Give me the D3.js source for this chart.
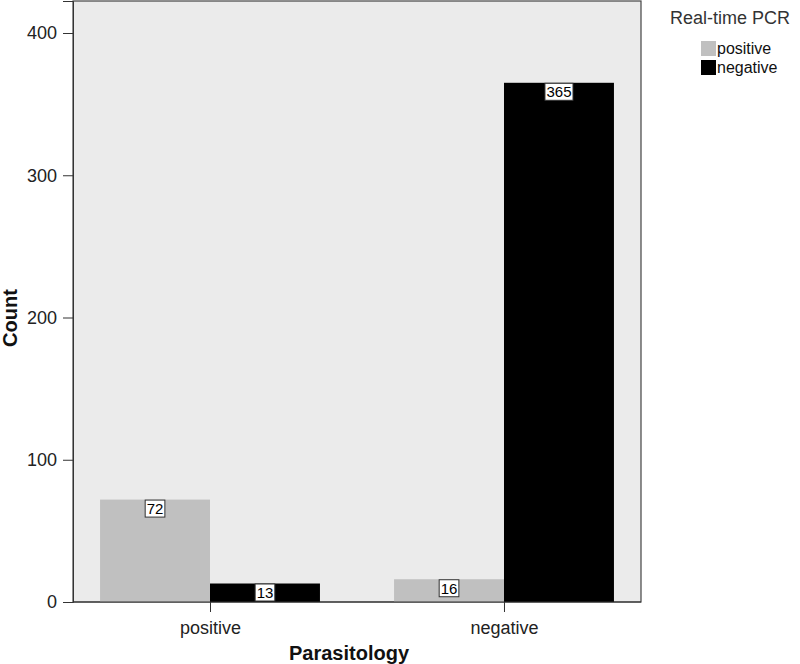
<!DOCTYPE html>
<html>
<head>
<meta charset="utf-8">
<script src="https://cdn.jsdelivr.net/npm/d3@7"></script>
<style>
  body { margin: 0; background: #fff; }
  text { font-family: Arial, "Liberation Sans", sans-serif; }
</style>
</head>
<body>
<svg id="svg" width="800" height="664"></svg>
<script>
// data
const categories = ['positive', 'negative'];          // Parasitology
const series = ['positive', 'negative'];              // Real-time PCR
const pcrPositive = [72, 16];
const pcrNegative = [13, 365];
const yTicks = [0, 100, 200, 300, 400];

const colors = { positive: '#c0c0c0', negative: '#000000' };

const svg = d3.select('#svg');
const plot = { left: 73, right: 641, top: 1, bottom: 602 };

const x = d3.scaleBand()
  .domain(categories)
  .range([plot.left, plot.right])
  .paddingInner(0.252)
  .paddingOuter(0.092);

const xInner = d3.scaleBand()
  .domain(series)
  .range([0, x.bandwidth()]);

const y = d3.scaleLinear()
  .domain([0, 422.5])
  .range([plot.bottom, plot.top]);

// background panel
svg.append('rect')
  .attr('x', plot.left)
  .attr('y', plot.top)
  .attr('width', plot.right - plot.left)
  .attr('height', plot.bottom - plot.top)
  .attr('fill', '#ebebeb')
  .attr('stroke', '#444')
  .attr('stroke-width', 1.2);

const rows = categories.map((c, i) => ({
  cat: c,
  values: [
    { key: 'positive', value: pcrPositive[i] },
    { key: 'negative', value: pcrNegative[i] }
  ]
}));

const groups = svg.selectAll('g.grp')
  .data(rows)
  .join('g')
  .attr('class', 'grp')
  .attr('transform', d => `translate(${x(d.cat)},0)`);

groups.selectAll('rect')
  .data(d => d.values)
  .join('rect')
  .attr('x', d => xInner(d.key))
  .attr('y', d => y(d.value))
  .attr('width', xInner.bandwidth())
  .attr('height', d => y(0) - y(d.value))
  .attr('fill', d => colors[d.key]);

// value labels
const lab = groups.selectAll('g.lab')
  .data(d => d.values)
  .join('g')
  .attr('class', 'lab')
  .attr('transform', d => `translate(${xInner(d.key) + xInner.bandwidth() / 2},${y(d.value) + 9})`);

lab.each(function (d) {
  const g = d3.select(this);
  const t = g.append('text')
    .attr('text-anchor', 'middle')
    .attr('dy', '0.36em')
    .attr('font-size', 15)
    .attr('fill', '#000')
    .text(d.value);
  const w = t.node().getComputedTextLength();
  g.insert('rect', 'text')
    .attr('x', -w / 2 - 1.5)
    .attr('y', -8.5)
    .attr('width', w + 3)
    .attr('height', 17)
    .attr('fill', '#fff')
    .attr('stroke', '#333')
    .attr('stroke-width', 1);
});

// axes
const yAxis = svg.append('g')
  .attr('transform', `translate(${plot.left},0)`)
  .call(d3.axisLeft(y).tickValues(yTicks).tickSize(10).tickPadding(6));
yAxis.select('.domain').attr('stroke', '#333');
yAxis.selectAll('.tick line').attr('stroke', '#333');
yAxis.selectAll('.tick text').attr('font-size', 18).attr('fill', '#222')
  .attr('font-family', 'Arial, "Liberation Sans", sans-serif');

const xAxis = svg.append('g')
  .attr('transform', `translate(0,${plot.bottom})`)
  .call(d3.axisBottom(d3.scalePoint().domain(categories)
    .range([x(categories[0]) + x.bandwidth() / 2, x(categories[1]) + x.bandwidth() / 2]))
    .tickSize(10).tickPadding(9));
xAxis.select('.domain').remove();
xAxis.append('line')
  .attr('x1', plot.left).attr('x2', plot.right)
  .attr('stroke', '#333');
xAxis.selectAll('.tick line').attr('stroke', '#333');
xAxis.selectAll('.tick text').attr('font-size', 18).attr('fill', '#222')
  .attr('font-family', 'Arial, "Liberation Sans", sans-serif');

// axis titles
svg.append('text')
  .attr('x', 349)
  .attr('y', 660)
  .attr('text-anchor', 'middle')
  .attr('font-size', 20)
  .attr('font-weight', 'bold')
  .attr('fill', '#111')
  .text('Parasitology');

svg.append('text')
  .attr('transform', 'translate(17,318) rotate(-90)')
  .attr('text-anchor', 'middle')
  .attr('font-size', 20)
  .attr('font-weight', 'bold')
  .attr('fill', '#111')
  .text('Count');

// legend
svg.append('text')
  .attr('x', 670)
  .attr('y', 24)
  .attr('font-size', 18)
  .attr('fill', '#333')
  .text('Real-time PCR');

const leg = svg.selectAll('g.leg')
  .data(series)
  .join('g')
  .attr('class', 'leg')
  .attr('transform', (d, i) => `translate(701,${41 + i * 19})`);
leg.append('rect')
  .attr('width', 15)
  .attr('height', 15)
  .attr('fill', d => colors[d]);
leg.append('text')
  .attr('x', 16)
  .attr('y', 13)
  .attr('font-size', 16)
  .attr('fill', '#111')
  .text(d => d);
</script>
</body>
</html>
